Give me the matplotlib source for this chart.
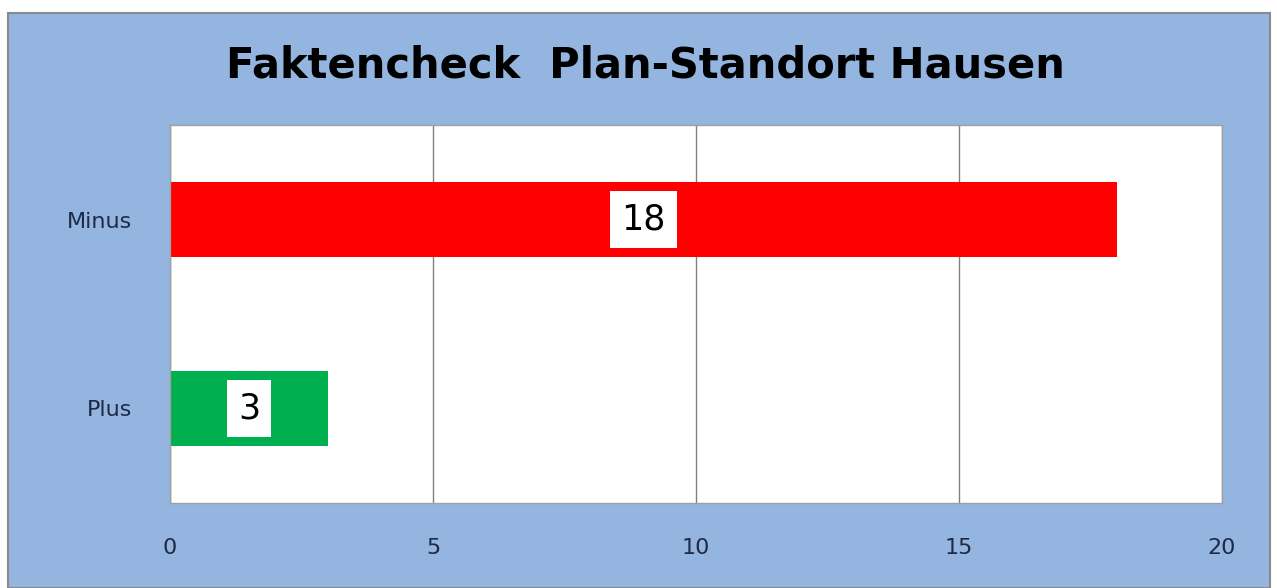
import matplotlib.pyplot as plt
from matplotlib.patches import Rectangle

# Chart data
categories = ['Plus', 'Minus']
values = [3, 18]
colors = ['#00B050', '#FF0000']
x_ticks = [0, 5, 10, 15, 20]

fig = plt.figure(figsize=(12.77, 5.88), dpi=100, facecolor='white')

# blue chart area background with thin gray frame
fig.patches.append(Rectangle((8 / 1277, 0), 1262 / 1277, 575 / 588,
                             transform=fig.transFigure, facecolor='#93B5E0',
                             edgecolor='#8A8A8A', linewidth=1.5, zorder=-10))

ax = fig.add_axes([170 / 1277, 85 / 588, 1052 / 1277, 378 / 588])
ax.set_facecolor('white')

bars = ax.barh(range(len(categories)), values, height=0.4, color=colors, zorder=2)

# value labels in white boxes at bar centre
for i, v in enumerate(values):
    ax.text(v / 2, i, str(v), ha='center', va='center', fontsize=25, color='black',
            zorder=3, bbox=dict(facecolor='white', edgecolor='none', pad=8))

ax.set_xlim(0, 20)
ax.set_ylim(-0.5, 1.5)
ax.set_xticks(x_ticks)
ax.set_yticks(range(len(categories)))
ax.set_yticklabels(categories)
ax.grid(axis='x', color='#808080', linewidth=1, zorder=1)
ax.set_axisbelow(True)
ax.tick_params(axis='both', length=0, labelsize=16, colors='#1F2A44')
ax.tick_params(axis='x', pad=25)
ax.tick_params(axis='y', pad=27)
for s in ax.spines.values():
    s.set_color('#A0A0A0')
    s.set_linewidth(1)

fig.text(645 / 1277, (588 - 65) / 588, 'Faktencheck  Plan-Standort Hausen',
         ha='center', va='center', fontsize=30, fontweight='bold', color='black')

fig.savefig('out.png', dpi=100)
